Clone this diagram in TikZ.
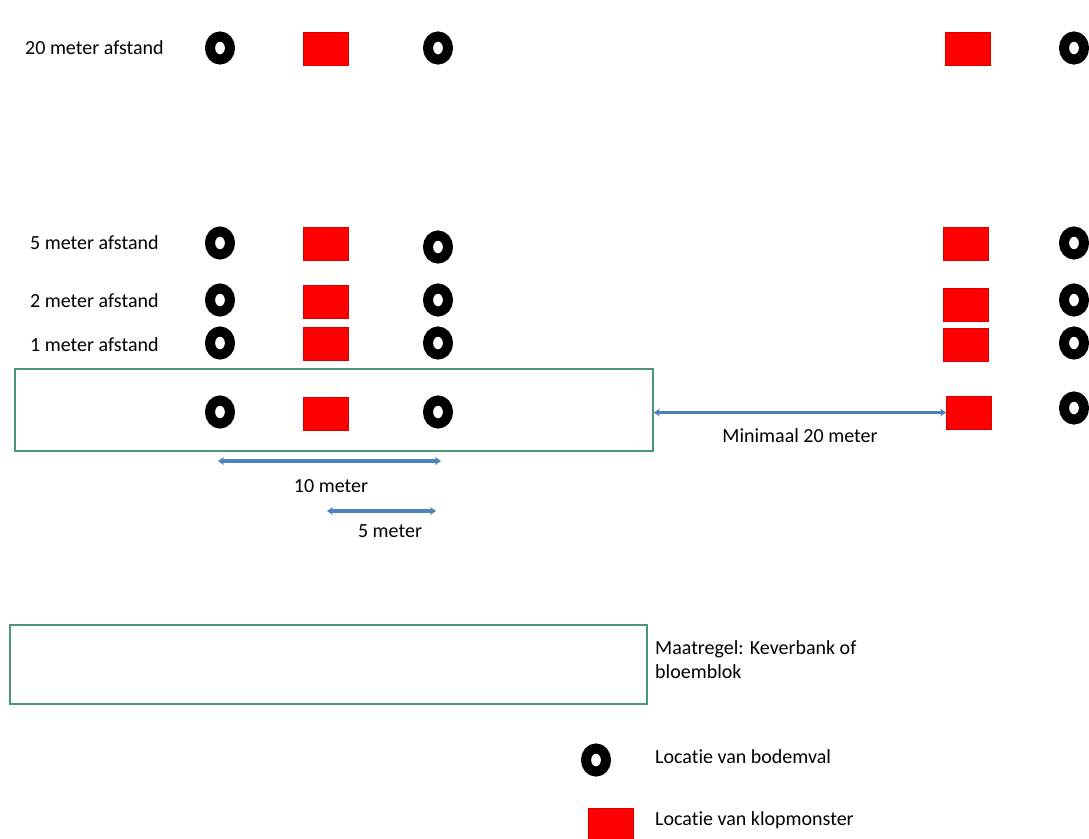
\documentclass[tikz,border=0pt]{standalone}
\usepackage{fontspec}
\setmainfont{Carlito}[Ligatures={NoCommon}]
\usetikzlibrary{shapes.geometric,arrows.meta}
\definecolor{vakgroen}{RGB}{76,150,116}
\definecolor{pijlblauw}{RGB}{79,129,189}
\begin{document}
\begin{tikzpicture}[x=1pt,y=-1pt,
    bodemval/.style={ellipse,draw=black,line width=10pt,minimum width=20pt,minimum height=23pt,inner sep=0pt,outer sep=0pt},
    klop/.style={rectangle,fill=red,draw=red!85!black,line width=0.6pt,minimum width=45pt,minimum height=33pt,inner sep=0pt},
    vak/.style={rectangle,draw=vakgroen,line width=1.5pt,inner sep=0pt},
    maat/.style={pijlblauw,line width=3.5pt,{Stealth[length=6pt,width=8pt]}-{Stealth[length=6pt,width=8pt]}},
    txt/.style={font=\fontsize{20}{24}\selectfont,inner sep=0pt}]
  \useasboundingbox (0,0) rectangle (1089,838);
  % maatregel vakken
  \node[vak,minimum width=638pt,minimum height=82pt] (vak) at (334,410) {};
  \node[vak,minimum width=637pt,minimum height=79pt] (vakL) at (328.5,664.5) {};
  % rij labels
  \node[txt,anchor=west] (l20) at (25,48) {20 meter afstand};
  \node[txt,anchor=west] (l5) at (30,243) {5 meter afstand};
  \node[txt,anchor=west] (l2) at (30,301) {2 meter afstand};
  \node[txt,anchor=west] (l1) at (30,345) {1 meter afstand};
  % bodemvallen, kolom 1
  \node[bodemval] (b20a) at (220,48) {};
  \node[bodemval] (b5a) at (220,243) {};
  \node[bodemval] (b2a) at (220,300) {};
  \node[bodemval] (b1a) at (220,343) {};
  \node[bodemval] (b0a) at (220,412) {};
  % bodemvallen, kolom 2
  \node[bodemval] (b20b) at (438,48) {};
  \node[bodemval] (b5b) at (438,247) {};
  \node[bodemval] (b2b) at (438,300) {};
  \node[bodemval] (b1b) at (438,343) {};
  \node[bodemval] (b0b) at (438,412) {};
  % bodemvallen, rechts
  \node[bodemval] (b20c) at (1074,48) {};
  \node[bodemval] (b5c) at (1074,243) {};
  \node[bodemval] (b2c) at (1074,300) {};
  \node[bodemval] (b1c) at (1074,343) {};
  \node[bodemval] (b0c) at (1074,408) {};
  % klopmonsters
  \node[klop] (k20a) at (326,48.5) {};
  \node[klop] (k5a) at (326,243.5) {};
  \node[klop] (k2a) at (326,301.5) {};
  \node[klop] (k1a) at (326,343.5) {};
  \node[klop] (k0a) at (326,413.5) {};
  \node[klop] (k20c) at (968,48.5) {};
  \node[klop] (k5c) at (966,243.5) {};
  \node[klop] (k2c) at (966,304.5) {};
  \node[klop] (k1c) at (966,344.5) {};
  \node[klop] (k0c) at (969,412.5) {};
  % maatvoering
  \coordinate (m10l) at (218,461); \coordinate (m10r) at (441,461);
  \coordinate (m5l) at (327,511); \coordinate (m5r) at (436,511);
  \draw[maat] (m10l) -- (m10r);
  \draw[maat] (m5l) -- (m5r);
  \draw[maat] (vak.east |- k0c) -- (k0c.west);
  \node[txt] (t10) at (331,486) {10 meter};
  \node[txt] (t5) at (390,531) {5 meter};
  \node[txt] (t20) at (800,436) {Minimaal 20 meter};
  % legenda
  \node[txt,anchor=north west,align=left,font=\fontsize{20}{24}\selectfont] (lmaat) at (655,640) {Maatregel: Keverbank of\\bloemblok};
  \node[bodemval] (lb) at (596,760) {};
  \node[txt,anchor=west] (lbt) at (655,757) {Locatie van bodemval};
  \node[klop,minimum height=36pt] (lk) at (610.5,826) {};
  \node[txt,anchor=west] (lkt) at (655,820) {Locatie van klopmonster};
\end{tikzpicture}
\end{document}
